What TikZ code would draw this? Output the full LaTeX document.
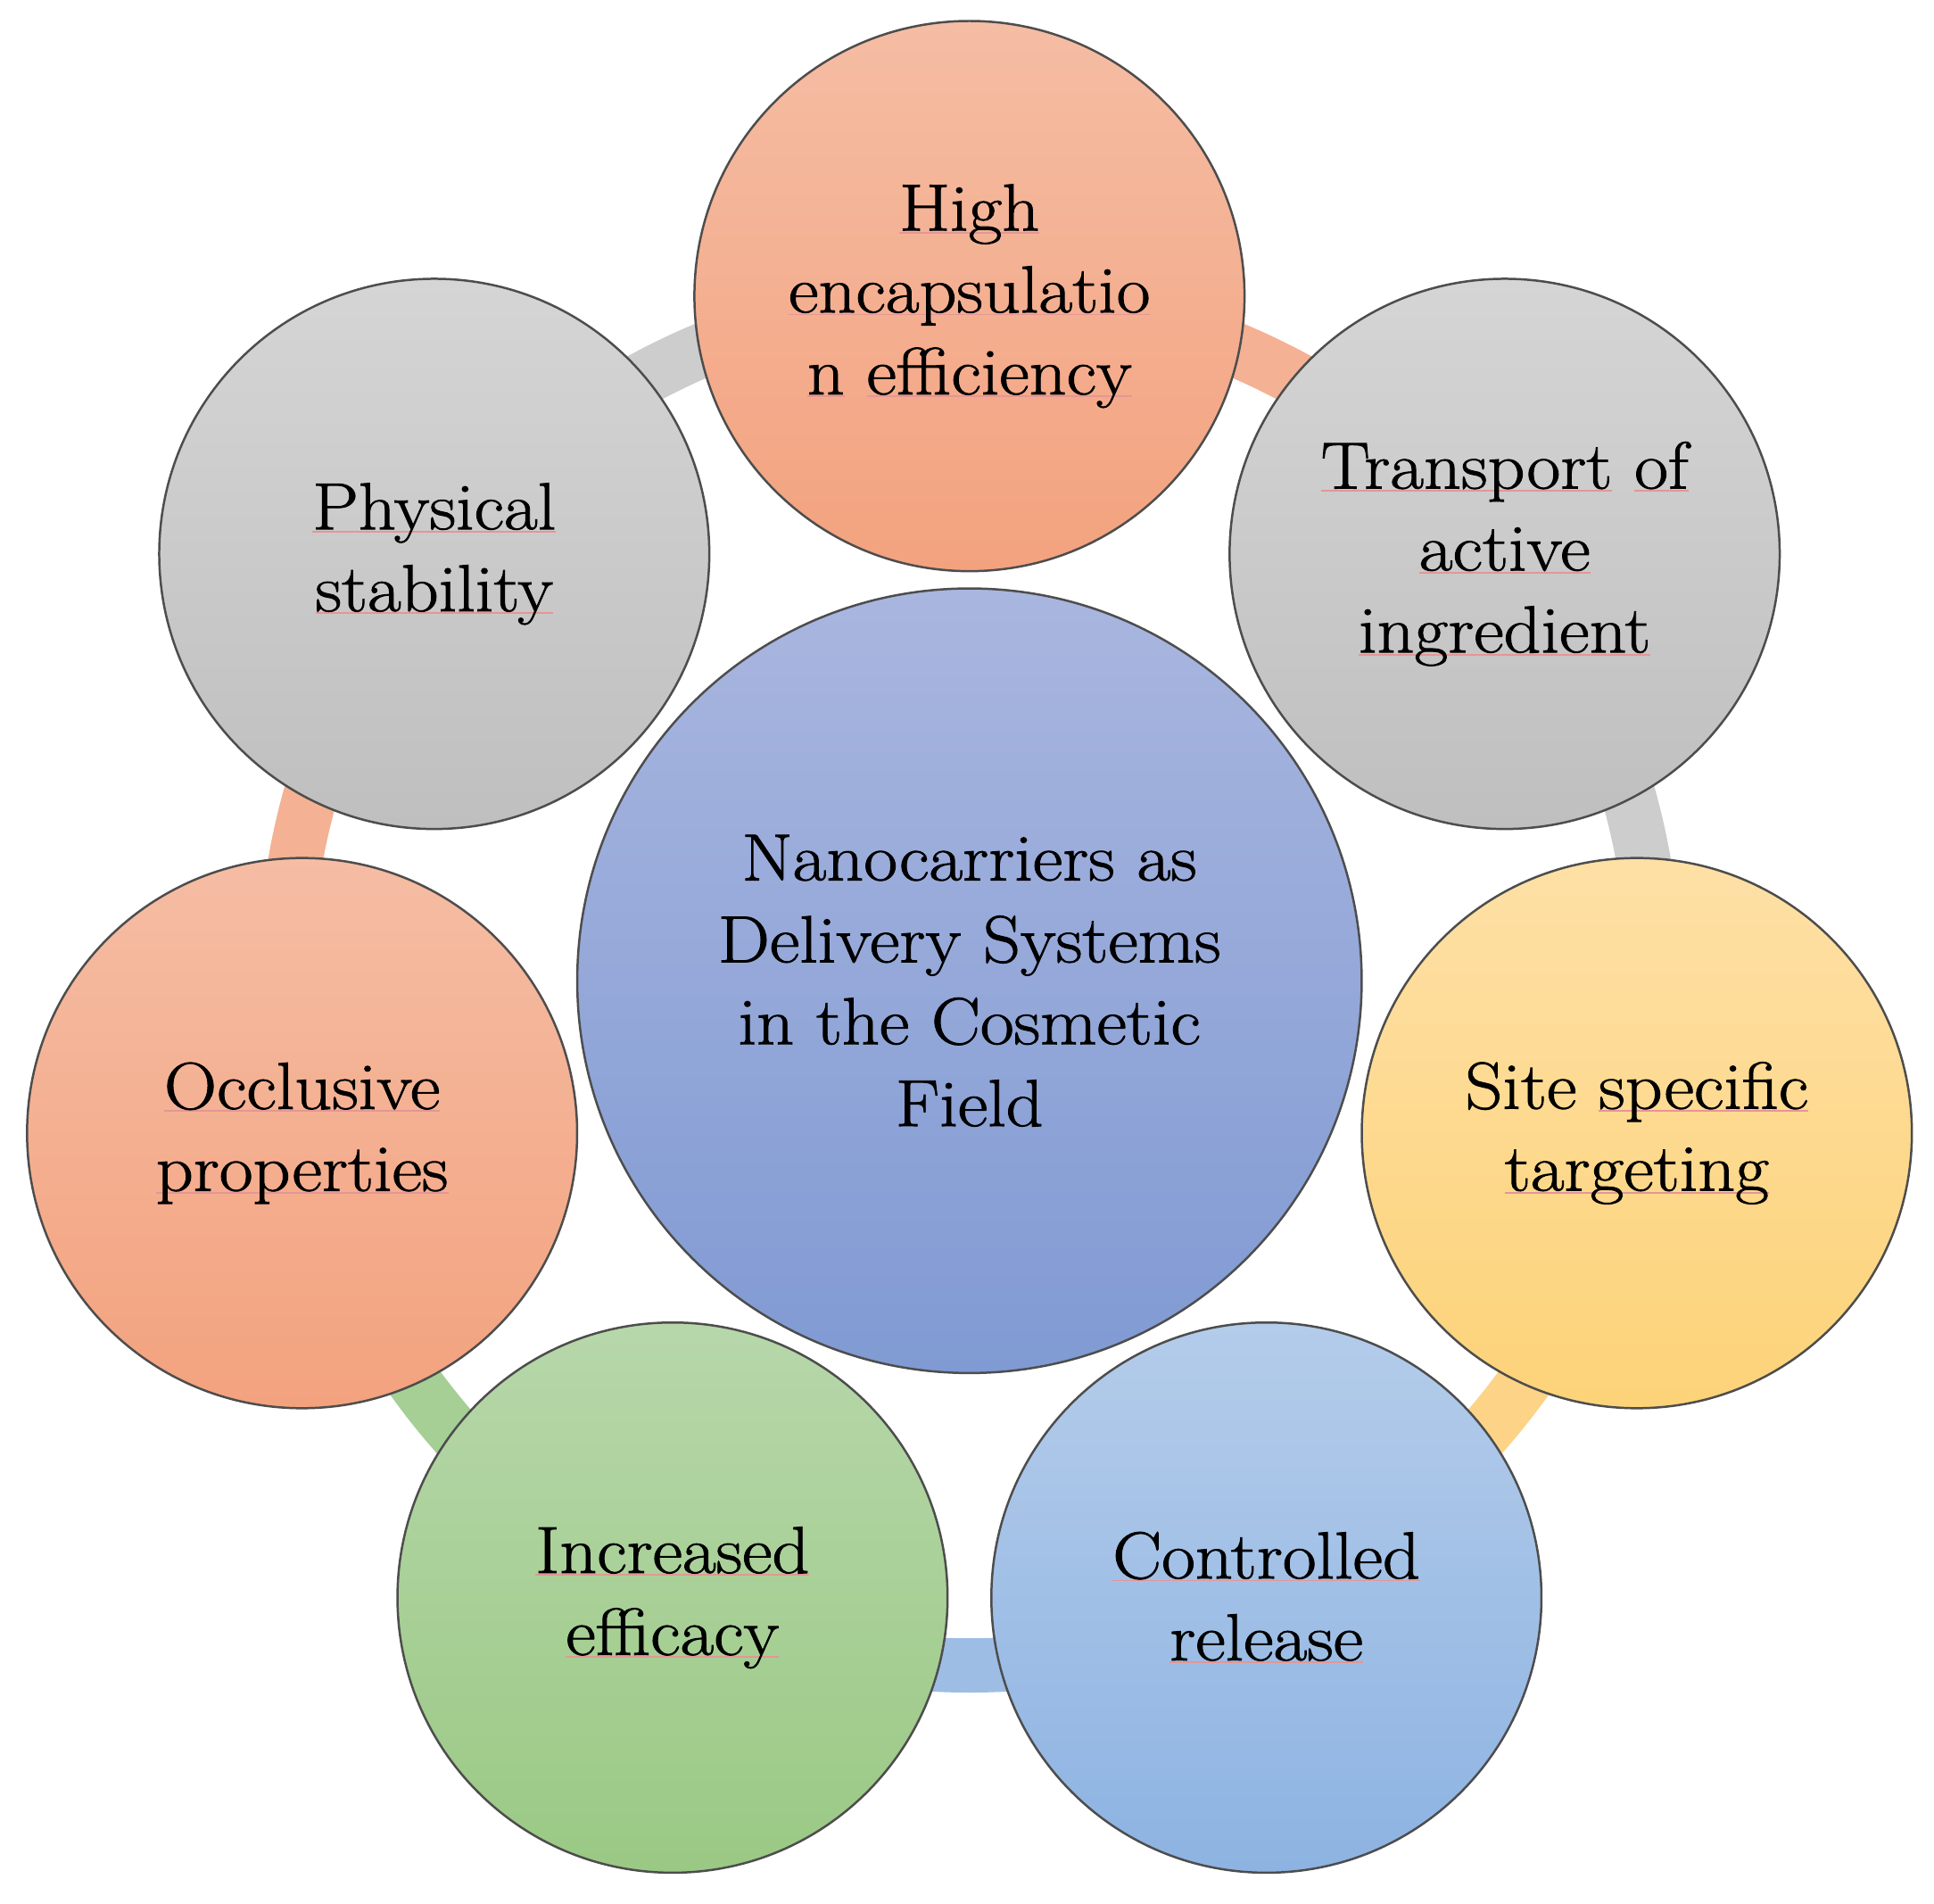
\documentclass[tikz,border=0pt]{standalone}
\usepackage{fontspec}
\setmainfont{Latin Modern Roman}[FakeStretch=1.1,FakeBold=1.2]
\usetikzlibrary{backgrounds}
\definecolor{nanoCoreTop}{HTML}{A9B6DF}
\definecolor{nanoCoreBot}{HTML}{809AD3}
\definecolor{nanoPeachTop}{HTML}{F5BDA4}
\definecolor{nanoPeachBot}{HTML}{F3A27E}
\definecolor{nanoPeach}{HTML}{F4B194}
\definecolor{nanoGrayTop}{HTML}{D5D5D5}
\definecolor{nanoGrayBot}{HTML}{BFBFBF}
\definecolor{nanoGray}{HTML}{CDCDCD}
\definecolor{nanoSunTop}{HTML}{FEE0A6}
\definecolor{nanoSunBot}{HTML}{FDD379}
\definecolor{nanoSun}{HTML}{FDD387}
\definecolor{nanoSkyTop}{HTML}{B4CCEA}
\definecolor{nanoSkyBot}{HTML}{8DB3E2}
\definecolor{nanoSky}{HTML}{9DBDE5}
\definecolor{nanoLeafTop}{HTML}{B7D7AA}
\definecolor{nanoLeafBot}{HTML}{9AC984}
\definecolor{nanoLeaf}{HTML}{A5CF94}
\definecolor{nanoRim}{HTML}{4D4D4D}
\definecolor{nanoSpell}{HTML}{E49696}
% faint spell-check underline under a word
\newsavebox\spellbox
\newcommand\spell[1]{\sbox\spellbox{#1}\leavevmode\rlap{\textcolor{nanoSpell}{\rule[-1.2pt]{\wd\spellbox}{0.7pt}}}\usebox\spellbox}

\begin{document}
\begin{tikzpicture}[x=0.5pt,y=0.5pt,line cap=butt]
\tikzset{bubble/.style={circle,draw=nanoRim,line width=0.9pt,minimum size=223pt,inner sep=0pt,align=center,font=\fontsize{27}{33.2}\selectfont},hub/.style={bubble,minimum size=318pt},band/.style={line width=22pt,bend left=25.71,looseness=0.9}}
\useasboundingbox (-786,-748) rectangle (782,795);
\node[hub,top color=nanoCoreTop,bottom color=nanoCoreBot] (core) at (0,0) {Nanocarriers as\\Delivery Systems\\in the Cosmetic\\Field};
\node[bubble,top color=nanoPeachTop,bottom color=nanoPeachBot] (encap) at (90:555) {\spell{High}\\\spell{encapsulatio}\\\spell{n} \spell{efficiency}};
\node[bubble,top color=nanoGrayTop,bottom color=nanoGrayBot] (transport) at (38.57:555) {\spell{Transport} \spell{of}\\\spell{active}\\\spell{ingredient}};
\node[bubble,top color=nanoSunTop,bottom color=nanoSunBot] (site) at (-12.86:555) {Site \spell{specific}\\\spell{targeting}};
\node[bubble,top color=nanoSkyTop,bottom color=nanoSkyBot] (release) at (-64.29:555) {\spell{Controlled}\\\spell{release}};
\node[bubble,top color=nanoLeafTop,bottom color=nanoLeafBot] (efficacy) at (-115.71:555) {\spell{Increased}\\\spell{efficacy}};
\node[bubble,top color=nanoPeachTop,bottom color=nanoPeachBot] (occlusive) at (-167.14:555) {\spell{Occlusive}\\\spell{properties}};
\node[bubble,top color=nanoGrayTop,bottom color=nanoGrayBot] (stability) at (141.43:555) {\spell{Physical}\\\spell{stability}};
\begin{scope}[on background layer]
\fill[white] (-786,-748) rectangle (782,795);
\draw[band,nanoPeach] (encap.center) to (transport.center);
\draw[band,nanoGray] (transport.center) to (site.center);
\draw[band,nanoSun] (site.center) to (release.center);
\draw[band,nanoSky] (release.center) to (efficacy.center);
\draw[band,nanoLeaf] (efficacy.center) to (occlusive.center);
\draw[band,nanoPeach] (occlusive.center) to (stability.center);
\draw[band,nanoGray] (stability.center) to (encap.center);
\end{scope}
\end{tikzpicture}
\end{document}
